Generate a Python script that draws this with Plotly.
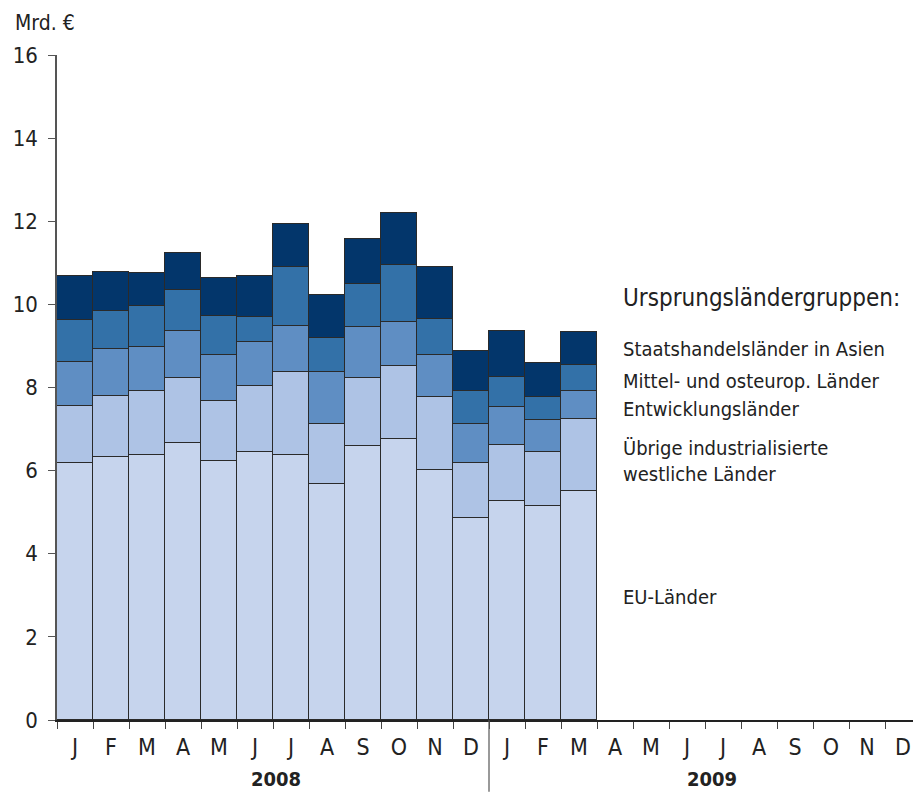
import plotly.graph_objects as go

months = ["J", "F", "M", "A", "M", "J", "J", "A", "S", "O", "N", "D"] * 2
years = ["2008", "2009"]

eu = [6.18, 6.33, 6.37, 6.66, 6.22, 6.46, 6.38, 5.68, 6.59, 6.75, 6.01, 4.85, 5.27, 5.15, 5.51]
uebrige = [1.37, 1.47, 1.55, 1.57, 1.45, 1.58, 2.00, 1.43, 1.64, 1.76, 1.75, 1.34, 1.34, 1.31, 1.74]
entw = [1.06, 1.13, 1.05, 1.12, 1.12, 1.06, 1.09, 1.26, 1.23, 1.07, 1.03, 0.93, 0.92, 0.77, 0.66]
mittel = [1.02, 0.92, 0.99, 0.99, 0.93, 0.60, 1.42, 0.81, 1.04, 1.36, 0.87, 0.79, 0.72, 0.53, 0.62]
staats = [1.05, 0.92, 0.79, 0.90, 0.92, 0.99, 1.04, 1.04, 1.07, 1.26, 1.25, 0.98, 1.10, 0.83, 0.80]

series = [
    ("EU-Länder", eu, "#C6D4ED"),
    ("Übrige industrialisierte westliche Länder", uebrige, "#AEC3E5"),
    ("Entwicklungsländer", entw, "#5F8EC3"),
    ("Mittel- und osteurop. Länder", mittel, "#3371A8"),
    ("Staatshandelsländer in Asien", staats, "#03366B"),
]

FONT = "DejaVu Sans Condensed, DejaVu Sans, sans-serif"

# the page body has an 8px margin; the figure is sized/placed to compensate
OFF = 8
W, H = 921 - OFF, 792 - OFF
L, T, PW, PH = 57 - OFF, 55 - OFF, 864, 665

fig = go.Figure()
xs = list(range(len(eu)))
for name, vals, col in series:
    fig.add_trace(go.Bar(x=xs, y=vals, name=name,
                         marker=dict(color=col, line=dict(color="#2a2a2a", width=1.5)),
                         showlegend=False))

fig.update_layout(
    barmode="stack", bargap=0,
    width=W, height=H,
    margin=dict(l=L, r=W - L - PW, t=T, b=H - T - PH, autoexpand=False),
    plot_bgcolor="white", paper_bgcolor="white",
    font=dict(family=FONT, size=20, color="#222"),
)
fig.update_xaxes(
    range=[-0.5, 23.5], tickmode="array", tickvals=list(range(24)), ticktext=months,
    ticks="", showgrid=False, zeroline=False, automargin=False,
    showline=True, linecolor="#222", linewidth=2,
    tickfont=dict(size=23), ticklabelstandoff=5,
    minor=dict(tickmode="array", tickvals=[i - 0.5 for i in range(25)], ticks="outside",
               ticklen=7, tickcolor="#444", tickwidth=1, showgrid=False),
)
fig.update_yaxes(
    range=[0, 16], tickvals=[0, 2, 4, 6, 8, 10, 12, 14, 16], ticks="outside", ticklen=7,
    tickcolor="#555", tickwidth=1.2, showgrid=False, zeroline=False, automargin=False,
    showline=True, linecolor="#555", linewidth=1.5, tickfont=dict(size=22), ticklabelstandoff=6,
)

# separator between years
fig.add_shape(type="line", xref="x", yref="paper", x0=11.5, x1=11.5, y0=0, y1=-0.108,
              line=dict(color="#555", width=1.2))

def px_ann(px, py, text, size, bold=False, xanchor="left"):
    # px, py are page pixel positions
    fx, fy = px - OFF, py - OFF
    fig.add_annotation(xref="paper", yref="paper", x=(fx - L) / PW, y=(T + PH - fy) / PH,
                       text=("<b>%s</b>" % text) if bold else text, showarrow=False,
                       xanchor=xanchor, yanchor="middle", align="left", font=dict(size=size))

px_ann(276, 779, years[0], 20, bold=True, xanchor="center")
px_ann(712, 779, years[1], 20, bold=True, xanchor="center")
px_ann(13, 23, "Mrd. €", 21)

LX = 621
px_ann(LX, 298, "Ursprungsländergruppen:", 24)
legend_items = [
    ("Staatshandelsländer in Asien", 349),
    ("Mittel- und osteurop. Länder", 381),
    ("Entwicklungsländer", 409),
    ("Übrige industrialisierte<br>westliche Länder", 461),
    ("EU-Länder", 597),
]
for txt, py in legend_items:
    px_ann(LX, py, txt, 20)

fig.write_html("out.html")
